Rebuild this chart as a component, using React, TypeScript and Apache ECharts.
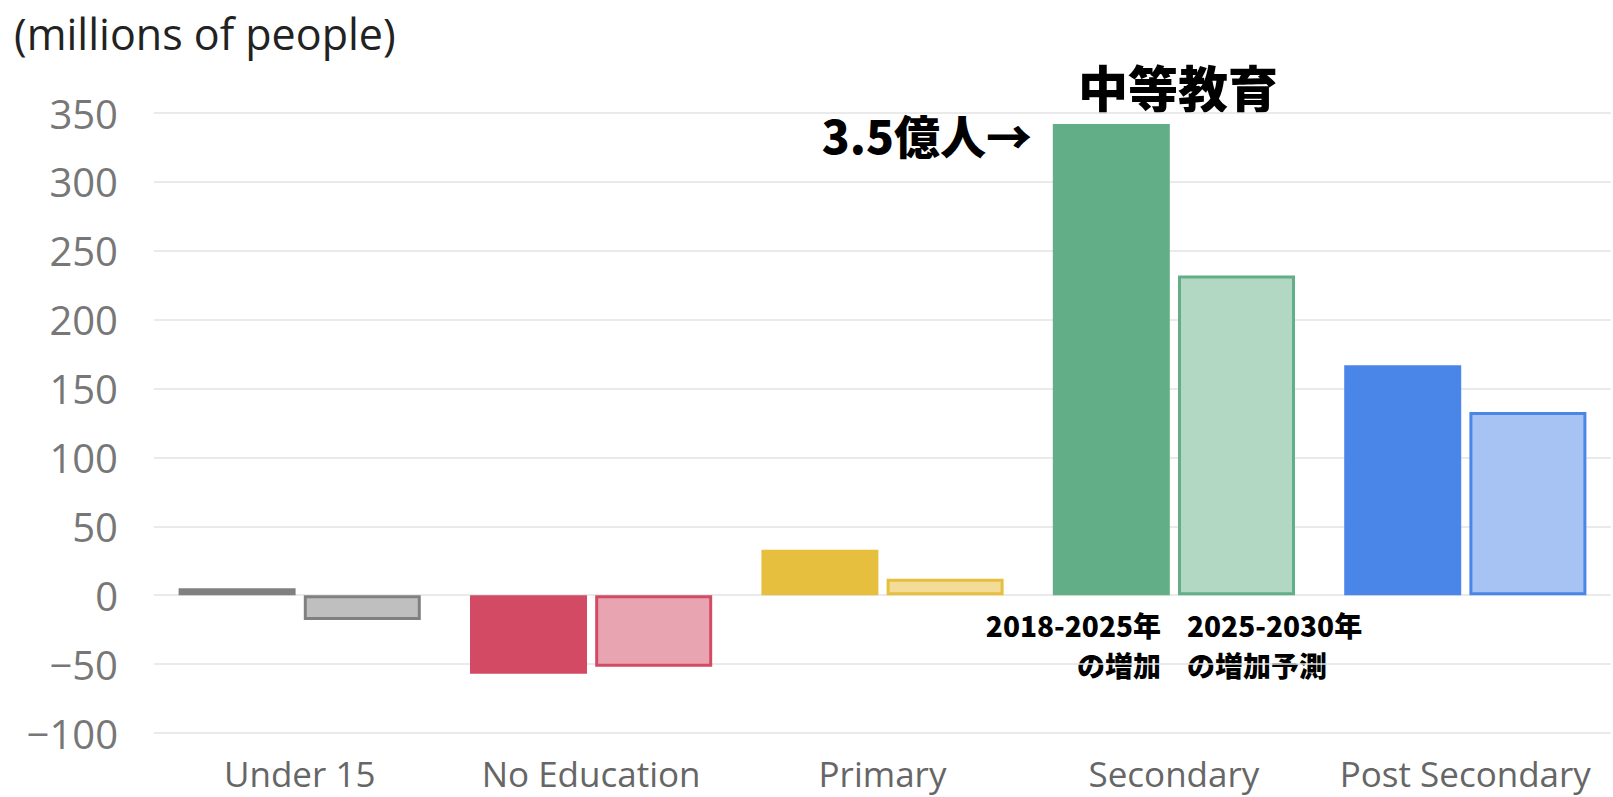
import React, { useEffect, useRef } from "react";
import * as echarts from "echarts";

const categories = ["Under 15", "No Education", "Primary", "Secondary", "Post Secondary"];
const increase2018to2025 = [5, -57, 33, 342, 167];
const increase2025to2030 = [-18, -52, 12, 232, 133];
const solidColors = ["#808080", "#d34a64", "#e6bf3e", "#62ae87", "#4a86e8"];
const lightColors = ["#bfbfbf", "#e8a5b1", "#f2dc97", "#b2d8c4", "#a6c3f3"];
const yTicks = { min: -100, max: 350, interval: 50 };

export default function App() {
  const ref = useRef<HTMLDivElement>(null);
  useEffect(() => {
    if (!ref.current) return;
    const chart = echarts.init(ref.current, null, { renderer: "svg" });
    const catFont = "'Open Sans', 'Noto Sans', sans-serif";
    const jp = "'Noto Sans CJK JP', sans-serif";
    chart.setOption({
      animation: false,
      backgroundColor: "#ffffff",
      grid: { left: 154, right: 2, top: 113, bottom: 64, containLabel: false },
      xAxis: {
        type: "category",
        data: categories,
        axisLine: { show: false },
        axisTick: { show: false },
        axisLabel: {
          color: "#666666",
          fontSize: 35,
          fontFamily: catFont,
          margin: 22,
          interval: 0,
          lineHeight: 36,
        },
      },
      yAxis: {
        type: "value",
        min: yTicks.min,
        max: yTicks.max,
        interval: yTicks.interval,
        axisLine: { show: false },
        axisTick: { show: false },
        axisLabel: {
          color: "#777777",
          fontSize: 40,
          fontFamily: catFont,
          margin: 36,
          formatter: (v: number) => (v < 0 ? "\u2212" + Math.abs(v) : String(v)),
        },
        splitLine: { lineStyle: { color: "#e3e3e3", width: 1.5 } },
      },
      series: [
        {
          name: "2018-2025",
          type: "bar",
          barWidth: 117,
          barGap: "7%",
          data: increase2018to2025.map((v, i) => ({
            value: v,
            itemStyle: { color: solidColors[i] },
          })),
        },
        {
          name: "2025-2030",
          type: "bar",
          barWidth: 117,
          barGap: "7%",
          data: increase2025to2030.map((v, i) => ({
            value: v,
            itemStyle: { color: lightColors[i], borderColor: solidColors[i], borderWidth: 3 },
          })),
        },
      ],
      graphic: [
        {
          type: "text",
          left: 14,
          top: 12,
          style: { text: "(millions of people)", fill: "#222222", fontSize: 43, fontFamily: catFont },
        },
        {
          type: "text",
          x: 1178,
          y: 86,
          style: {
            text: "中等教育",
            fill: "#000000",
            fontSize: 50,
            fontWeight: 900,
            fontFamily: jp,
            align: "center",
            verticalAlign: "middle",
          },
        },
        {
          type: "text",
          x: 1032,
          y: 134,
          style: {
            text: "3.5億人→",
            fill: "#000000",
            fontSize: 46,
            fontWeight: 900,
            fontFamily: jp,
            align: "right",
            verticalAlign: "middle",
          },
        },
        {
          type: "text",
          x: 1161,
          y: 645,
          style: {
            text: "2018-2025年\nの増加",
            fill: "#000000",
            fontSize: 28,
            fontWeight: 900,
            fontFamily: jp,
            align: "right",
            verticalAlign: "middle",
            lineHeight: 40,
          },
        },
        {
          type: "text",
          x: 1187,
          y: 645,
          style: {
            text: "2025-2030年\nの増加予測",
            fill: "#000000",
            fontSize: 28,
            fontWeight: 900,
            fontFamily: jp,
            align: "left",
            verticalAlign: "middle",
            lineHeight: 40,
          },
        },
      ],
    });
    return () => chart.dispose();
  }, []);
  return (
    <div
      ref={ref}
      style={{ position: "fixed", left: 0, top: 0, width: 1613, height: 797, background: "#fff" }}
    />
  );
}
